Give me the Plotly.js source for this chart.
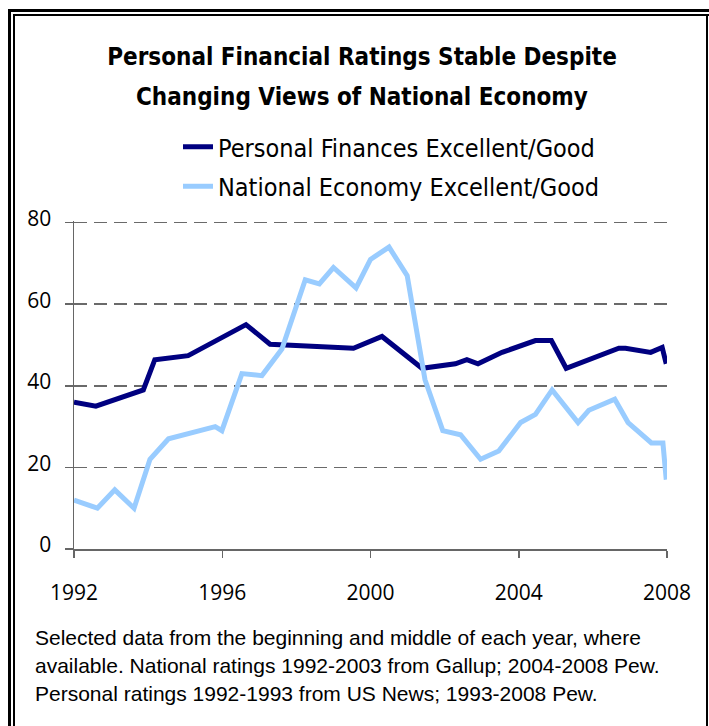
<!DOCTYPE html>
<html>
<head>
<meta charset="utf-8">
<script src="https://cdn.plot.ly/plotly-3.0.1.min.js"></script>
<style>
  html, body { margin: 0; padding: 0; background: #fff; }
  #wrap { position: relative; width: 709px; height: 726px; overflow: hidden; }
  #chart { position: absolute; left: 0; top: 0; width: 709px; height: 726px; }
  .fr { position: absolute; pointer-events: none; border-style: solid; border-color: #000; border-width: 0; }
</style>
</head>
<body>
<div id="wrap">
  <div id="chart"></div>
  <div class="fr" style="left:8px; top:9px; width:800px; height:800px; border-left-width:3px; border-top-width:3px;"></div>
  <div class="fr" style="left:13px; top:14px; width:800px; height:800px; border-left-width:2px; border-top-width:2px;"></div>
  <div class="fr" style="left:706px; top:14px; width:0px; height:800px; border-left-width:2px;"></div>
</div>
<script>
// ---- data ----
const personalName = "Personal Finances Excellent/Good";
const nationalName = "National Economy Excellent/Good";

const personalYears = [1992.0, 1992.59, 1993.87, 1994.18, 1995.08, 1996.64, 1997.29, 1999.54, 2000.31, 2001.39,
  2002.29, 2002.6, 2002.9, 2003.55, 2004.45, 2004.88, 2005.28, 2006.7, 2006.88, 2007.56, 2007.87, 2007.98];
const personalValues = [36, 35, 39, 46.4, 47.4, 55, 50.2, 49.2, 52.1, 44.3,
  45.4, 46.4, 45.4, 48.2, 51.1, 51.1, 44.3, 49.2, 49.2, 48.2, 49.4, 45.4];

const nationalYears = [1992.0, 1992.63, 1993.1, 1993.62, 1994.05, 1994.55, 1995.81, 1995.99, 1996.53, 1997.07,
  1997.61, 1998.24, 1998.62, 1999.0, 1999.61, 2000.0, 2000.5, 2000.99, 2001.47, 2001.95,
  2002.43, 2002.97, 2003.46, 2004.05, 2004.45, 2004.9, 2005.6, 2005.89, 2006.59, 2006.95,
  2007.58, 2007.89, 2007.98];
const nationalValues = [12, 10, 14.5, 10, 22, 27, 30, 29, 43, 42.5,
  49, 66, 65, 69, 64, 71, 74, 67, 41.5, 29,
  28, 22, 24, 31, 33, 39, 31, 34, 36.7, 31,
  26, 26, 17];

const xTickVals = [1992, 1996, 2000, 2004, 2008];
const xTickText = ["1992", "1996", "2000", "2004", "2008"];
const yTickVals = [0, 20, 40, 60, 80];

const titleLine1 = "Personal Financial Ratings Stable Despite";
const titleLine2 = "Changing Views of National Economy";
const noteLines = [
  "Selected data from the beginning and middle of each year, where",
  "available. National ratings 1992-2003 from Gallup; 2004-2008 Pew.",
  "Personal ratings 1992-1993 from US News; 1993-2008 Pew."
];

// ---- layout helpers (pixel -> paper) ----
const W = 709, H = 726;
const yTop = 80.4;                       // a hair above 80 so the 80 gridline is drawn
const L = 74, R = 667, B = 549;
const T = 223 - Math.round((yTop - 80) * (B - 223) / 80);
const px = x => (x - L) / (R - L);
const py = y => (B - y) / (B - T);

const headFont = "DejaVu Sans Condensed, DejaVu Sans, sans-serif";
const tickFont = "Open Sans, Noto Sans, sans-serif";
const noteFont = "Liberation Sans, Arial, sans-serif";

const traces = [
  { x: personalYears, y: personalValues, name: personalName, type: "scatter", mode: "lines",
    line: { color: "#000080", width: 5 }, legendgroup: "a", hoverinfo: "skip" },
  { x: nationalYears, y: nationalValues, name: nationalName, type: "scatter", mode: "lines",
    line: { color: "#99CCFF", width: 5 }, legendgroup: "b", hoverinfo: "skip" }
];

const noteY = [637, 665, 693];
const annotations = [
  { text: titleLine2, xref: "paper", yref: "paper", x: px(362), y: py(97), xanchor: "center", yanchor: "middle",
    showarrow: false, font: { family: headFont, size: 24, color: "#000", weight: "bold" } }
].concat(noteLines.map((t, i) => ({
  text: t, xref: "paper", yref: "paper", x: px(33), y: py(noteY[i]), xanchor: "left", yanchor: "middle",
  showarrow: false, font: { family: noteFont, size: 21, color: "#000" }
})));

const layout = {
  width: W, height: H,
  margin: { l: L, r: W - R, t: T, b: H - B, pad: 0, autoexpand: false },
  paper_bgcolor: "#fff", plot_bgcolor: "#fff",
  title: { text: titleLine1, x: 362 / W, xanchor: "center", xref: "container",
    y: 1 - 57 / H, yanchor: "middle", yref: "container",
    font: { family: headFont, size: 24, color: "#000", weight: "bold" } },
  showlegend: true,
  legend: { xref: "container", yref: "container", x: 178 / W, y: 1 - 124 / H, xanchor: "left", yanchor: "top",
    font: { family: headFont, size: 25, color: "#000" }, traceorder: "grouped", tracegroupgap: 4,
    bgcolor: "rgba(0,0,0,0)", borderwidth: 0 },
  xaxis: { range: [1992, 2008], tickvals: xTickVals, ticktext: xTickText, ticks: "outside", ticklen: 7,
    tickcolor: "#666", tickwidth: 1.5, showline: true, linecolor: "#666", linewidth: 1.5,
    showgrid: false, zeroline: false, ticklabelstandoff: 17, tickangle: 0,
    tickfont: { family: tickFont, size: 21, color: "#000" }, fixedrange: true },
  xaxis2: { range: [1992, 2008], overlaying: "x", anchor: "y", side: "bottom", tickvals: xTickVals,
    ticks: "inside", ticklen: 7, tickcolor: "#666", tickwidth: 1.5, showticklabels: false,
    showline: false, showgrid: false, zeroline: false, fixedrange: true },
  yaxis: { range: [0, yTop], tickvals: yTickVals, ticks: "outside", ticklen: 8, tickcolor: "#666", tickwidth: 1.5,
    showline: true, linecolor: "#666", linewidth: 1.5, showgrid: true, gridcolor: "#6a6a6a", gridwidth: 1.5,
    griddash: "13px,7px", zeroline: false, ticklabelstandoff: 9, ticklabelshift: -4,
    tickfont: { family: tickFont, size: 21, color: "#000" }, fixedrange: true },
  annotations: annotations
};

Plotly.newPlot("chart", traces, layout, { displayModeBar: false, staticPlot: true });
</script>
</body>
</html>
